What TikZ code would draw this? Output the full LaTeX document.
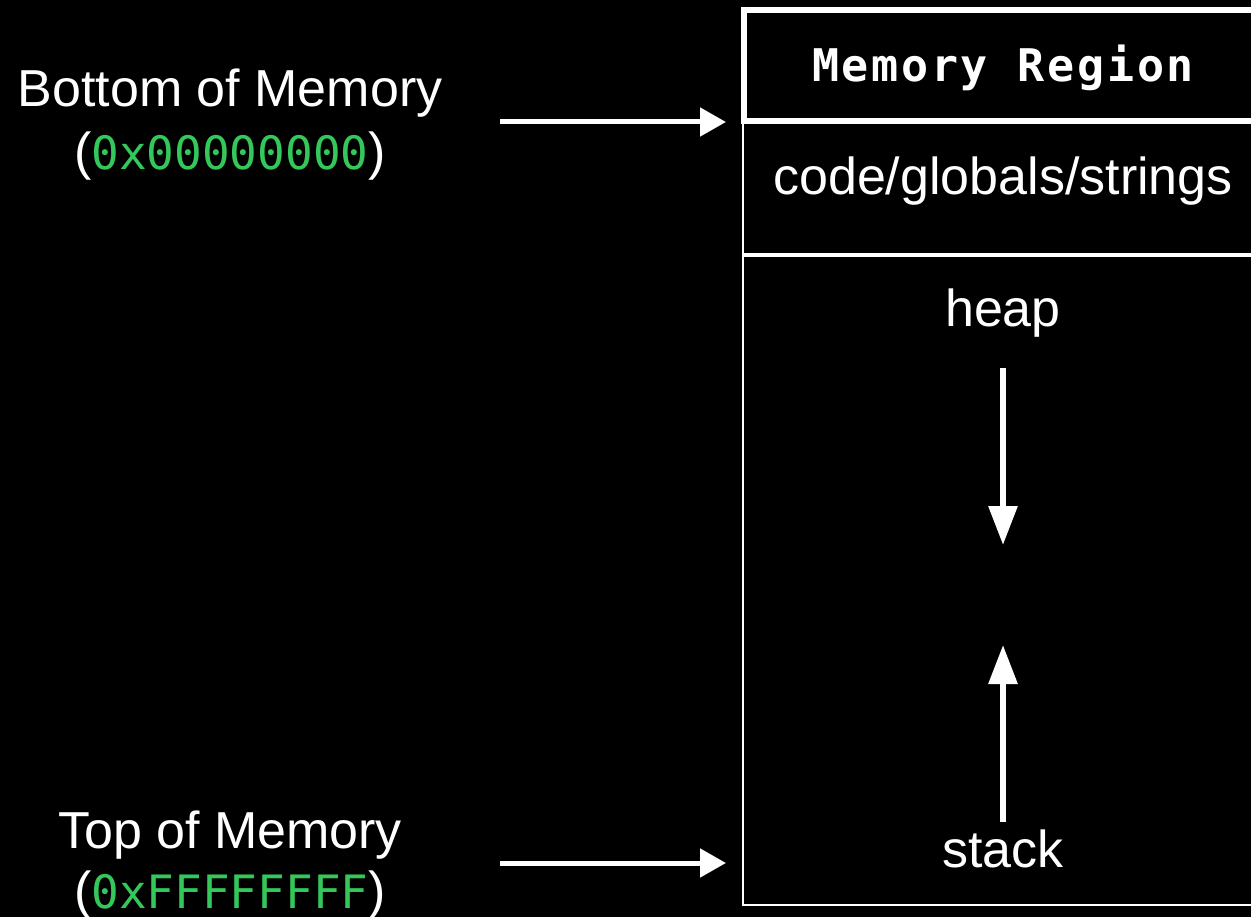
\documentclass[tikz,border=0pt]{standalone}
\usepackage{fontspec}
\setmainfont{Liberation Sans}
\newfontfamily\codefont{DejaVu Sans Mono}
\newfontfamily\headfont[LetterSpace=6]{DejaVu Sans Mono}
\usetikzlibrary{arrows.meta}
\definecolor{addrgreen}{RGB}{52,199,89}
\begin{document}
\begin{tikzpicture}[x=1pt,y=-1pt,
  lbl/.style={text=white,inner sep=0pt,anchor=base,font=\fontsize{52}{52}\selectfont},
  addr/.style={text=white,inner sep=0pt,anchor=base,font=\fontsize{52}{52}\selectfont},
  region/.style={text=white,inner sep=0pt,anchor=base,font=\fontsize{52}{52}\selectfont},
  head/.style={text=white,inner sep=0pt,anchor=base,font=\headfont\bfseries\fontsize{45}{45}\selectfont},
  harrow/.style={draw=white,line width=5pt,-{Triangle[length=26pt,width=28pt]}},
  varrow/.style={draw=white,line width=6pt,-{Triangle[length=39pt,width=28pt]}},
  thick border/.style={draw=white,line width=6pt},
  thin border/.style={draw=white,line width=2pt},
  sep line/.style={draw=white,line width=4pt}]
\fill[black] (0,0) rectangle (1251,917);
\useasboundingbox (0,0) rectangle (1251,917);
\clip (0,0) rectangle (1251,917);
% memory column
\draw[thin border] (743,121) -- (743,905) -- (1270,905);
\draw[sep line] (743,255) -- (1270,255);
\draw[thick border] (744,10) rectangle (1270,121);
% texts in column
\node[head] (title) at (1003,82) {Memory Region};
\node[region] (code) at (1003,195) {code/globals/strings};
\node[region] (heap) at (1003,327) {heap};
\node[region] (stack) at (1003,867) {stack};
% labels
\node[lbl] (bottom) at (230,107) {Bottom of Memory};
\node[addr] (bottomaddr) at (230,170) {(\textcolor{addrgreen}{\codefont\fontsize{46}{46}\selectfont 0x00000000})};
\node[lbl] (top) at (230,848) {Top of Memory};
\node[addr] (topaddr) at (230,908) {(\textcolor{addrgreen}{\codefont\fontsize{46}{46}\selectfont 0xFFFFFFFF})};
% arrow coordinates
\coordinate (b1) at (500,122);
\coordinate (b2) at (726,122);
\coordinate (t1) at (500,863);
\coordinate (t2) at (726,863);
\coordinate (h1) at (1003,368);
\coordinate (h2) at (1003,545);
\coordinate (s1) at (1003,822);
\coordinate (s2) at (1003,645);
\draw[harrow] (b1) -- (b2);
\draw[harrow] (t1) -- (t2);
\draw[varrow] (h1) -- (h2);
\draw[varrow] (s1) -- (s2);
\end{tikzpicture}
\end{document}
